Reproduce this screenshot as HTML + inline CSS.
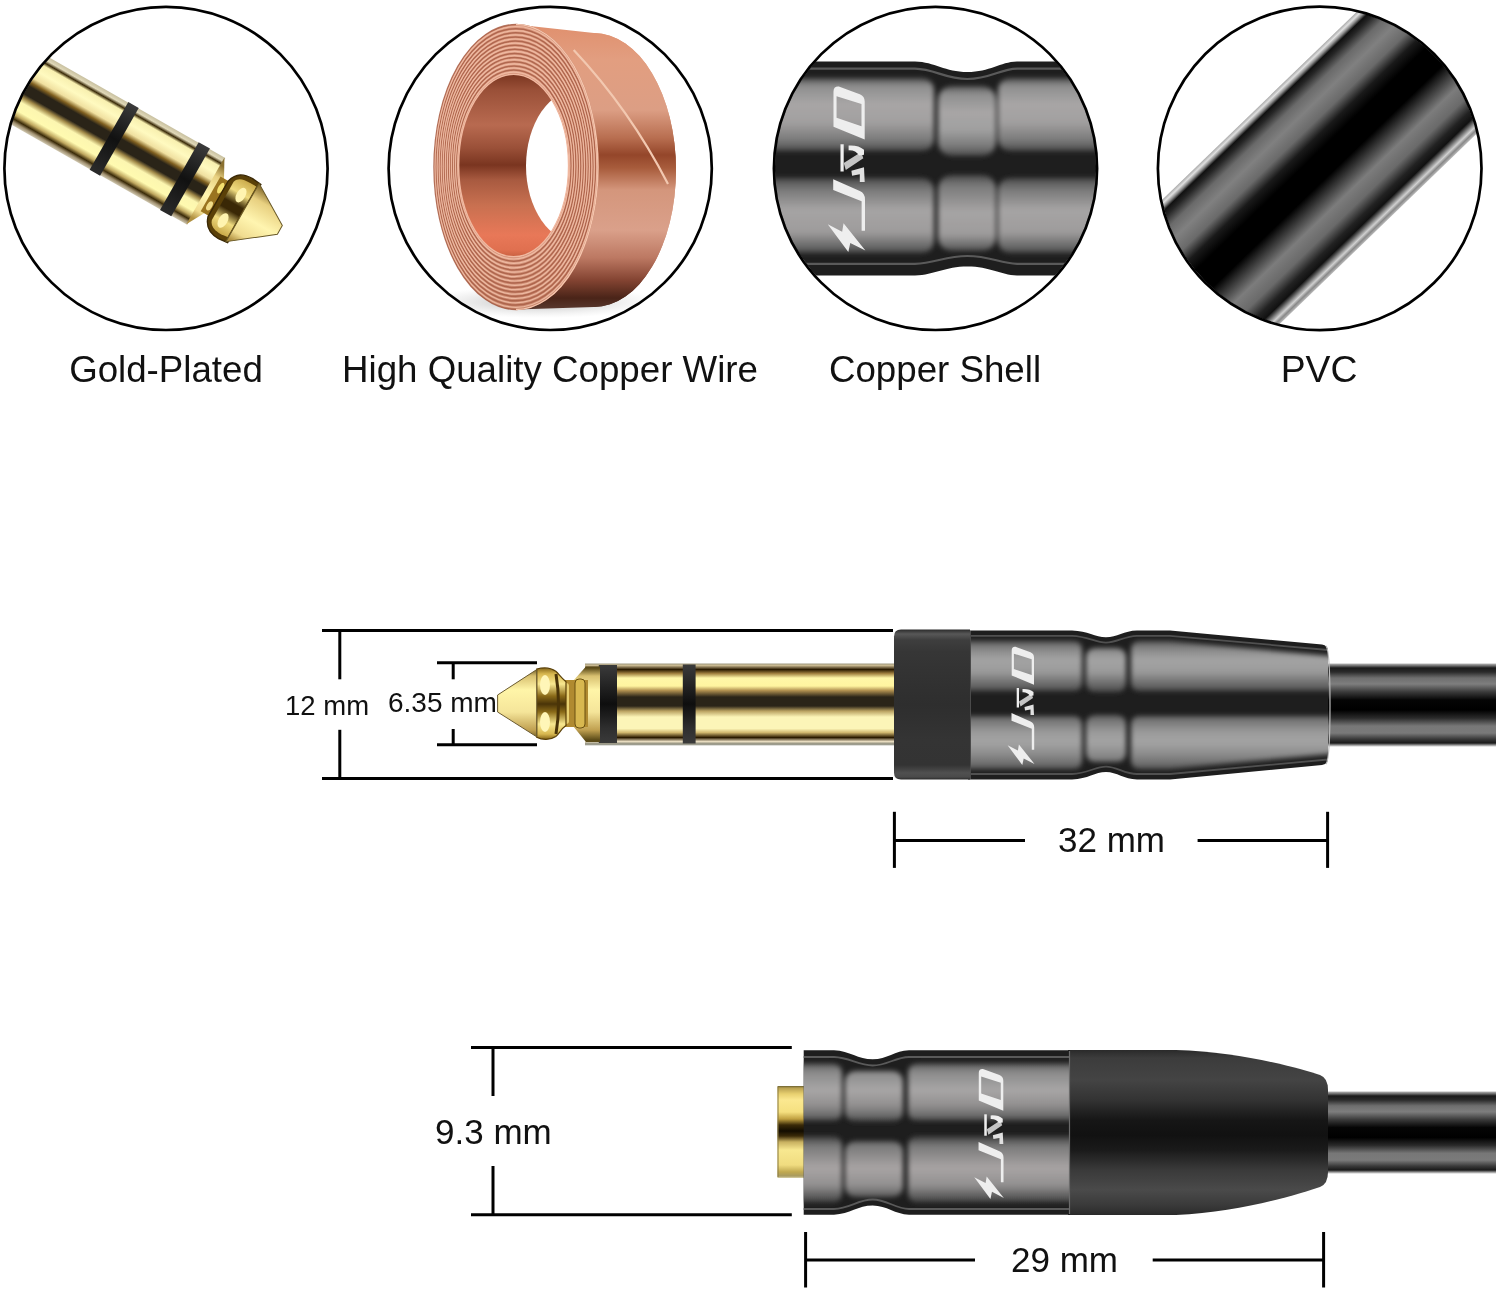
<!DOCTYPE html>
<html><head><meta charset="utf-8">
<style>
html,body{margin:0;padding:0;background:#fff;width:1496px;height:1291px;overflow:hidden}
svg{display:block;will-change:transform}
text{font-family:"Liberation Sans",sans-serif;fill:#111}
</style></head>
<body>
<svg width="1496" height="1291" viewBox="0 0 1496 1291">
<defs>
<clipPath id="c1"><circle cx="166" cy="168.4" r="160.6"/></clipPath>
<clipPath id="c2"><circle cx="550.2" cy="168.4" r="160.6"/></clipPath>
<clipPath id="c3"><circle cx="935.5" cy="168.4" r="160.6"/></clipPath>
<clipPath id="c4"><circle cx="1319.7" cy="168.4" r="160.8"/></clipPath>
<filter id="blur2" x="-20%" y="-20%" width="140%" height="140%"><feGaussianBlur stdDeviation="2"/></filter>
<filter id="blur4" x="-50%" y="-50%" width="200%" height="200%"><feGaussianBlur stdDeviation="4"/></filter>
<filter id="blur6" x="-50%" y="-50%" width="200%" height="200%"><feGaussianBlur stdDeviation="6"/></filter>
<filter id="blur1" x="-20%" y="-20%" width="140%" height="140%"><feGaussianBlur stdDeviation="1"/></filter>
<linearGradient id="gGoldSleeve" gradientUnits="userSpaceOnUse" x1="0" y1="663.5" x2="0" y2="745.5"><stop offset="0.0000" stop-color="#a09a80"/><stop offset="0.0244" stop-color="#c8b890"/><stop offset="0.0732" stop-color="#2a1a00"/><stop offset="0.1220" stop-color="#a08040"/><stop offset="0.1768" stop-color="#fff7a8"/><stop offset="0.2744" stop-color="#fff5a0"/><stop offset="0.3293" stop-color="#b09050"/><stop offset="0.4085" stop-color="#2a2418"/><stop offset="0.5183" stop-color="#2a2418"/><stop offset="0.5793" stop-color="#b8a060"/><stop offset="0.6524" stop-color="#fcf5b8"/><stop offset="0.7927" stop-color="#fcf5b8"/><stop offset="0.8415" stop-color="#d0b870"/><stop offset="0.9024" stop-color="#2a1a00"/><stop offset="0.9512" stop-color="#e8dcc0"/><stop offset="0.9817" stop-color="#8a8a7a"/><stop offset="1.0000" stop-color="#c0c0b8"/></linearGradient>
<linearGradient id="gRing" gradientUnits="userSpaceOnUse" x1="0" y1="665" x2="0" y2="743"><stop offset="0.0000" stop-color="#3a3a3a"/><stop offset="0.1923" stop-color="#2a2a2a"/><stop offset="0.5000" stop-color="#0e0e0e"/><stop offset="0.8077" stop-color="#2e2e2e"/><stop offset="1.0000" stop-color="#3a3a3a"/></linearGradient>
<linearGradient id="gTip" gradientUnits="userSpaceOnUse" x1="0" y1="668" x2="0" y2="740"><stop offset="0.0000" stop-color="#5a4a18"/><stop offset="0.1111" stop-color="#d8c070"/><stop offset="0.3056" stop-color="#fff5a8"/><stop offset="0.6111" stop-color="#f5e59a"/><stop offset="0.8611" stop-color="#c0a050"/><stop offset="1.0000" stop-color="#5a4a18"/></linearGradient>
<linearGradient id="gCap" gradientUnits="userSpaceOnUse" x1="0" y1="629.5" x2="0" y2="779.5"><stop offset="0.0000" stop-color="#2a2a2a"/><stop offset="0.0100" stop-color="#3a3a3a"/><stop offset="0.0300" stop-color="#585858"/><stop offset="0.0700" stop-color="#3e3e3e"/><stop offset="0.1500" stop-color="#363636"/><stop offset="0.4033" stop-color="#303030"/><stop offset="0.5033" stop-color="#2e2e2e"/><stop offset="0.7367" stop-color="#343434"/><stop offset="0.9033" stop-color="#333"/><stop offset="0.9567" stop-color="#505050"/><stop offset="0.9833" stop-color="#4a4a4a"/><stop offset="1.0000" stop-color="#2a2a2a"/></linearGradient>
<linearGradient id="gCableTop" gradientUnits="userSpaceOnUse" x1="0" y1="663" x2="0" y2="747"><stop offset="0.0000" stop-color="#c8c8c8"/><stop offset="0.0238" stop-color="#888"/><stop offset="0.0595" stop-color="#1a1a1a"/><stop offset="0.1071" stop-color="#2a2a2a"/><stop offset="0.1786" stop-color="#6e6e6e"/><stop offset="0.2500" stop-color="#7e7e7e"/><stop offset="0.3452" stop-color="#3a3a3a"/><stop offset="0.4405" stop-color="#050505"/><stop offset="0.5595" stop-color="#000"/><stop offset="0.6548" stop-color="#2a2a2a"/><stop offset="0.7500" stop-color="#777"/><stop offset="0.8333" stop-color="#7a7a7a"/><stop offset="0.9048" stop-color="#3a3a3a"/><stop offset="0.9524" stop-color="#1a1a1a"/><stop offset="0.9821" stop-color="#aaa"/><stop offset="1.0000" stop-color="#ddd"/></linearGradient>
<linearGradient id="gPillowM" gradientUnits="userSpaceOnUse" x1="0" y1="641" x2="0" y2="769"><stop offset="0.0000" stop-color="#5a5a5a"/><stop offset="0.0703" stop-color="#8a8a8a"/><stop offset="0.1484" stop-color="#a4a4a4"/><stop offset="0.2422" stop-color="#9a9a9a"/><stop offset="0.3359" stop-color="#6a6a6a"/><stop offset="0.3984" stop-color="#4a4a4a"/><stop offset="0.4609" stop-color="#1a1a1a"/><stop offset="0.5703" stop-color="#5a5a5a"/><stop offset="0.6328" stop-color="#7a7a7a"/><stop offset="0.7109" stop-color="#9a9a9a"/><stop offset="0.7891" stop-color="#a4a4a4"/><stop offset="0.8906" stop-color="#8a8a8a"/><stop offset="1.0000" stop-color="#5a5a5a"/></linearGradient>
<linearGradient id="gBulb" gradientUnits="userSpaceOnUse" x1="0" y1="667" x2="0" y2="740"><stop offset="0.0000" stop-color="#7a5a10"/><stop offset="0.0959" stop-color="#d8b850"/><stop offset="0.2329" stop-color="#f8e890"/><stop offset="0.3973" stop-color="#8a6a18"/><stop offset="0.5068" stop-color="#4a3408"/><stop offset="0.6164" stop-color="#8a6a18"/><stop offset="0.7808" stop-color="#f8e890"/><stop offset="0.9178" stop-color="#d8b850"/><stop offset="1.0000" stop-color="#7a5a10"/></linearGradient>
<clipPath id="bodyM"><path d="M968,630.5 L1072,630.5 C1088,631 1095,637.2 1106,637.2 C1117,637.2 1124,630.8 1137,630.5 L1170,630.5 L1322,644.5 Q1328,645.5 1328,651 L1328,758.5 Q1328,764 1322,765 L1170,779.5 L1137,779.5 C1124,779.2 1117,772 1106,772 C1095,772 1088,779 1072,779.5 L968,779.5 Z"/></clipPath>
<filter id="pblur" filterUnits="userSpaceOnUse" x="0" y="0" width="1496" height="1291"><feGaussianBlur stdDeviation="2.4"/></filter>
<linearGradient id="gGoldJack" gradientUnits="userSpaceOnUse" x1="0" y1="1086" x2="0" y2="1178"><stop offset="0.0000" stop-color="#6a6030"/><stop offset="0.0217" stop-color="#b8a050"/><stop offset="0.0870" stop-color="#e8d070"/><stop offset="0.1522" stop-color="#fbe890"/><stop offset="0.2826" stop-color="#f5e080"/><stop offset="0.3587" stop-color="#c0a040"/><stop offset="0.4239" stop-color="#3a2a08"/><stop offset="0.4891" stop-color="#120c00"/><stop offset="0.5435" stop-color="#3a2a08"/><stop offset="0.6087" stop-color="#c8b060"/><stop offset="0.6957" stop-color="#f8e890"/><stop offset="0.8587" stop-color="#f0dc80"/><stop offset="0.9348" stop-color="#c0a850"/><stop offset="0.9783" stop-color="#a89a60"/><stop offset="1.0000" stop-color="#d8d0a8"/></linearGradient>
<linearGradient id="gPillowF" gradientUnits="userSpaceOnUse" x1="0" y1="1063" x2="0" y2="1203"><stop offset="0.0000" stop-color="#555"/><stop offset="0.0643" stop-color="#8a8a8a"/><stop offset="0.1929" stop-color="#a8a6a6"/><stop offset="0.3000" stop-color="#929090"/><stop offset="0.3786" stop-color="#6a6a6a"/><stop offset="0.4143" stop-color="#3a3a3a"/><stop offset="0.4643" stop-color="#1c1c1c"/><stop offset="0.5214" stop-color="#3a3a3a"/><stop offset="0.5929" stop-color="#7a7a7a"/><stop offset="0.7500" stop-color="#a8a4a4"/><stop offset="0.8714" stop-color="#929090"/><stop offset="0.9571" stop-color="#5a5a5a"/><stop offset="1.0000" stop-color="#3a3a3a"/></linearGradient>
<linearGradient id="gBoot" gradientUnits="userSpaceOnUse" x1="0" y1="1050" x2="0" y2="1215"><stop offset="0.0000" stop-color="#2a2a2a"/><stop offset="0.0485" stop-color="#3c3c3c"/><stop offset="0.1818" stop-color="#444"/><stop offset="0.3030" stop-color="#333"/><stop offset="0.4242" stop-color="#161616"/><stop offset="0.5152" stop-color="#111"/><stop offset="0.6061" stop-color="#1a1a1a"/><stop offset="0.7273" stop-color="#3a3a3a"/><stop offset="0.8485" stop-color="#4a4a4a"/><stop offset="0.9394" stop-color="#3a3a3a"/><stop offset="1.0000" stop-color="#2a2a2a"/></linearGradient>
<linearGradient id="gCableBot" gradientUnits="userSpaceOnUse" x1="0" y1="1091" x2="0" y2="1174"><stop offset="0.0000" stop-color="#c8c8c8"/><stop offset="0.0238" stop-color="#888"/><stop offset="0.0595" stop-color="#1a1a1a"/><stop offset="0.1071" stop-color="#2a2a2a"/><stop offset="0.1786" stop-color="#6e6e6e"/><stop offset="0.2500" stop-color="#7e7e7e"/><stop offset="0.3452" stop-color="#3a3a3a"/><stop offset="0.4405" stop-color="#050505"/><stop offset="0.5595" stop-color="#000"/><stop offset="0.6548" stop-color="#2a2a2a"/><stop offset="0.7500" stop-color="#777"/><stop offset="0.8333" stop-color="#7a7a7a"/><stop offset="0.9048" stop-color="#3a3a3a"/><stop offset="0.9524" stop-color="#1a1a1a"/><stop offset="0.9821" stop-color="#aaa"/><stop offset="1.0000" stop-color="#ddd"/></linearGradient>
<clipPath id="bodyF"><path d="M803.7,1050.2 L834,1050.2 C850,1051 858,1059.3 872.7,1059.3 C887,1059.3 895,1050.5 909,1050.2 L1070,1050.2 L1070,1214.7 L909,1214.7 C895,1214.5 887,1205.6 872.7,1205.6 C858,1205.6 850,1214 834,1214.7 L803.7,1214.7 Z"/></clipPath>
<linearGradient id="gPlug" gradientUnits="userSpaceOnUse" x1="0" y1="-38.5" x2="0" y2="38.5"><stop offset="0.0000" stop-color="#c8c0a0"/><stop offset="0.0519" stop-color="#e0d8b8"/><stop offset="0.0909" stop-color="#3a2a08"/><stop offset="0.1299" stop-color="#f8f0b0"/><stop offset="0.2338" stop-color="#fffac0"/><stop offset="0.3377" stop-color="#f0e0a0"/><stop offset="0.4026" stop-color="#806020"/><stop offset="0.4545" stop-color="#2a2418"/><stop offset="0.5714" stop-color="#2a2418"/><stop offset="0.6234" stop-color="#a08848"/><stop offset="0.6883" stop-color="#fcf6b0"/><stop offset="0.8052" stop-color="#fffab0"/><stop offset="0.8701" stop-color="#c0a860"/><stop offset="0.9221" stop-color="#3a2a08"/><stop offset="0.9610" stop-color="#a09070"/><stop offset="1.0000" stop-color="#d0c8b0"/></linearGradient>
<linearGradient id="gPlugTip" gradientUnits="userSpaceOnUse" x1="0" y1="-30" x2="0" y2="30"><stop offset="0" stop-color="#8a7030"/><stop offset="0.2" stop-color="#e8d080"/><stop offset="0.55" stop-color="#fff5b0"/><stop offset="0.85" stop-color="#f0dc90"/><stop offset="1" stop-color="#b09040"/></linearGradient>
<linearGradient id="gBulbL" gradientUnits="userSpaceOnUse" x1="0" y1="-30" x2="0" y2="30"><stop offset="0" stop-color="#c8a848"/><stop offset="0.25" stop-color="#f0dc80"/><stop offset="0.45" stop-color="#3a2806"/><stop offset="0.58" stop-color="#3a2806"/><stop offset="0.78" stop-color="#f0dc80"/><stop offset="1" stop-color="#c8a848"/></linearGradient>
<linearGradient id="gRing1" gradientUnits="userSpaceOnUse" x1="0" y1="-38.5" x2="0" y2="38.5"><stop offset="0" stop-color="#3a3a3a"/><stop offset="0.5" stop-color="#111"/><stop offset="1" stop-color="#2a2a2a"/></linearGradient>
<linearGradient id="gCoilOuter" gradientUnits="userSpaceOnUse" x1="0" y1="25" x2="0" y2="310"><stop offset="0.0000" stop-color="#e0906e"/><stop offset="0.1228" stop-color="#e29e80"/><stop offset="0.2982" stop-color="#dc9e84"/><stop offset="0.3965" stop-color="#b86e50"/><stop offset="0.4561" stop-color="#94462a"/><stop offset="0.5018" stop-color="#a85c3c"/><stop offset="0.5789" stop-color="#d4967c"/><stop offset="0.7193" stop-color="#daa08a"/><stop offset="0.8175" stop-color="#bc7862"/><stop offset="0.8947" stop-color="#844432"/><stop offset="0.9579" stop-color="#4a2418"/><stop offset="1.0000" stop-color="#5a3a30"/></linearGradient>
<linearGradient id="gCoilFace" gradientUnits="userSpaceOnUse" x1="0" y1="25" x2="0" y2="310"><stop offset="0.0000" stop-color="#dc9a80"/><stop offset="0.1930" stop-color="#e0a088"/><stop offset="0.4982" stop-color="#d8967c"/><stop offset="0.7895" stop-color="#dc9c84"/><stop offset="1.0000" stop-color="#c8866c"/></linearGradient>
<linearGradient id="gCoilInner" gradientUnits="userSpaceOnUse" x1="0" y1="74" x2="0" y2="257"><stop offset="0.0000" stop-color="#7a3520"/><stop offset="0.0874" stop-color="#9a5038"/><stop offset="0.2787" stop-color="#b86a50"/><stop offset="0.4044" stop-color="#9a5038"/><stop offset="0.4973" stop-color="#7a3520"/><stop offset="0.5792" stop-color="#a85a40"/><stop offset="0.7158" stop-color="#c87050"/><stop offset="0.8798" stop-color="#e87858"/><stop offset="0.9617" stop-color="#e07050"/><stop offset="1.0000" stop-color="#c86040"/></linearGradient>
<radialGradient id="gShadow" cx="0.5" cy="0.5" r="0.5"><stop offset="0" stop-color="#999" stop-opacity="0.7"/><stop offset="1" stop-color="#ccc" stop-opacity="0"/></radialGradient>
<clipPath id="hole"><ellipse cx="513.6" cy="165.5" rx="55" ry="91.3"/></clipPath>
<linearGradient id="gPillowC3" gradientUnits="userSpaceOnUse" x1="0" y1="79" x2="0" y2="253"><stop offset="-0.0057" stop-color="#555"/><stop offset="0.0402" stop-color="#8e8e8e"/><stop offset="0.1437" stop-color="#a8a6a6"/><stop offset="0.2471" stop-color="#a2a0a0"/><stop offset="0.3506" stop-color="#7a7a7a"/><stop offset="0.4138" stop-color="#4a4a4a"/><stop offset="0.4943" stop-color="#1c1c1c"/><stop offset="0.5690" stop-color="#4a4a4a"/><stop offset="0.6379" stop-color="#7a7a7a"/><stop offset="0.7529" stop-color="#a6a4a4"/><stop offset="0.8793" stop-color="#9e9c9c"/><stop offset="0.9598" stop-color="#6a6a6a"/><stop offset="1.0000" stop-color="#4a4a4a"/></linearGradient>
<linearGradient id="gPillowC3w" gradientUnits="userSpaceOnUse" x1="0" y1="86" x2="0" y2="251"><stop offset="0.0000" stop-color="#555"/><stop offset="0.0485" stop-color="#8e8e8e"/><stop offset="0.1576" stop-color="#a8a6a6"/><stop offset="0.2667" stop-color="#a0a0a0"/><stop offset="0.3636" stop-color="#7a7a7a"/><stop offset="0.4242" stop-color="#4a4a4a"/><stop offset="0.4788" stop-color="#1c1c1c"/><stop offset="0.5394" stop-color="#4a4a4a"/><stop offset="0.6061" stop-color="#7a7a7a"/><stop offset="0.7636" stop-color="#a6a4a4"/><stop offset="0.8970" stop-color="#9e9c9c"/><stop offset="0.9697" stop-color="#6a6a6a"/><stop offset="1.0000" stop-color="#4a4a4a"/></linearGradient>
<filter id="pblur3" filterUnits="userSpaceOnUse" x="0" y="0" width="1496" height="400"><feGaussianBlur stdDeviation="2.6"/></filter>
<linearGradient id="gPVC" gradientUnits="userSpaceOnUse" x1="0" y1="-85.5" x2="0" y2="85.5"><stop offset="0.0000" stop-color="#aaa"/><stop offset="0.0175" stop-color="#e0e0e0"/><stop offset="0.0351" stop-color="#888"/><stop offset="0.0526" stop-color="#111"/><stop offset="0.0819" stop-color="#262626"/><stop offset="0.1404" stop-color="#6a6a6a"/><stop offset="0.2105" stop-color="#808080"/><stop offset="0.2924" stop-color="#6a6a6a"/><stop offset="0.3626" stop-color="#1a1a1a"/><stop offset="0.4327" stop-color="#000"/><stop offset="0.5731" stop-color="#000"/><stop offset="0.6433" stop-color="#3a3a3a"/><stop offset="0.7251" stop-color="#7c7c7c"/><stop offset="0.8070" stop-color="#6a6a6a"/><stop offset="0.8772" stop-color="#222"/><stop offset="0.9181" stop-color="#111"/><stop offset="0.9474" stop-color="#888"/><stop offset="0.9649" stop-color="#d0d0d0"/><stop offset="0.9825" stop-color="#888"/><stop offset="1.0000" stop-color="#bbb"/></linearGradient>

</defs>
<rect width="1496" height="1291" fill="#fff"/>
<g clip-path="url(#c1)"><g transform="translate(30.8,91.3) rotate(29.7)"><rect x="-80" y="-38.5" width="282" height="77" fill="url(#gPlug)"/><rect x="90" y="-39" width="12" height="78" fill="url(#gRing1)"/><rect x="171" y="-39" width="13" height="78" fill="url(#gRing1)"/><path d="M201,-38.5 L211,-20 L211,20 L201,38.5 Z" fill="url(#gPlugTip)"/><rect x="207" y="-20" width="12" height="40" fill="#9a7420"/><ellipse cx="213" cy="-10" rx="2.6" ry="6" fill="#f4e070"/><ellipse cx="212" cy="11" rx="2.6" ry="5" fill="#f0dc88"/><path d="M216,-20 C219,-31 226,-34 236,-34 L246,-33 L246,34 L236,35 C226,35 219,31 216,21 Z" fill="#5a4008" stroke="#3a2806" stroke-width="1.4"/><path d="M221,-22 C223,-28 228,-29 236,-29 L243,-29 L243,29 L236,30 C228,30 223,28 221,22 Z" fill="url(#gBulbL)"/><ellipse cx="234" cy="-14" rx="4.5" ry="8" fill="#fff4b0"/><ellipse cx="231" cy="17" rx="4.5" ry="8" fill="#fff4b0"/><path d="M244,-33 L285,-8 L285,2 L244,34 Z" fill="url(#gPlugTip)" stroke="#6a5a28" stroke-width="1"/></g></g>
<g clip-path="url(#c2)"><ellipse cx="540" cy="302" rx="120" ry="16" fill="url(#gShadow)"/><path d="M516,24.5 L594,33 A82,137 0 0 1 594,307 L516,309.5 A82,142.5 0 0 1 516,24.5 Z" fill="url(#gCoilOuter)"/><ellipse cx="594" cy="170" rx="82" ry="137" fill="url(#gCoilOuter)"/><path fill-rule="evenodd" d="M516,24.5 A82,142.5 0 1 0 516,309.5 A82,142.5 0 1 0 516,24.5 Z M513.6,74.2 A55,91.3 0 1 1 513.6,256.8 A55,91.3 0 1 1 513.6,74.2 Z" fill="url(#gCoilFace)"/><g fill="none" stroke="#a85e46" stroke-width="1.5" opacity="0.85"><ellipse cx="516.0" cy="167.0" rx="82.0" ry="142.5"/><ellipse cx="515.8" cy="166.9" rx="79.8" ry="138.2"/><ellipse cx="515.6" cy="166.8" rx="77.5" ry="134.0"/><ellipse cx="515.4" cy="166.6" rx="75.2" ry="129.7"/><ellipse cx="515.2" cy="166.5" rx="73.0" ry="125.4"/><ellipse cx="515.0" cy="166.4" rx="70.8" ry="121.2"/><ellipse cx="514.8" cy="166.2" rx="68.5" ry="116.9"/><ellipse cx="514.6" cy="166.1" rx="66.2" ry="112.6"/><ellipse cx="514.4" cy="166.0" rx="64.0" ry="108.4"/><ellipse cx="514.2" cy="165.9" rx="61.8" ry="104.1"/><ellipse cx="514.0" cy="165.8" rx="59.5" ry="99.8"/><ellipse cx="513.8" cy="165.6" rx="57.2" ry="95.6"/><ellipse cx="513.6" cy="165.5" rx="55.0" ry="91.3"/></g><g fill="none" stroke="#f2c0a8" stroke-width="1.2" opacity="0.85"><ellipse cx="515.9" cy="166.9" rx="80.9" ry="140.4"/><ellipse cx="515.7" cy="166.8" rx="78.6" ry="136.1"/><ellipse cx="515.5" cy="166.7" rx="76.4" ry="131.8"/><ellipse cx="515.3" cy="166.6" rx="74.1" ry="127.6"/><ellipse cx="515.1" cy="166.4" rx="71.9" ry="123.3"/><ellipse cx="514.9" cy="166.3" rx="69.6" ry="119.0"/><ellipse cx="514.7" cy="166.2" rx="67.4" ry="114.8"/><ellipse cx="514.5" cy="166.1" rx="65.1" ry="110.5"/><ellipse cx="514.3" cy="165.9" rx="62.9" ry="106.2"/><ellipse cx="514.1" cy="165.8" rx="60.6" ry="102.0"/><ellipse cx="513.9" cy="165.7" rx="58.4" ry="97.7"/><ellipse cx="513.7" cy="165.6" rx="56.1" ry="93.4"/></g><ellipse cx="513.6" cy="165.5" rx="55" ry="91.3" fill="url(#gCoilInner)"/><g clip-path="url(#hole)"><ellipse cx="579" cy="166" rx="53" ry="77" fill="#fff"/></g><ellipse cx="513.6" cy="165.5" rx="55" ry="91.3" fill="none" stroke="#f0b8a0" stroke-width="1.5"/><path d="M516,24.5 A82,142.5 0 0 1 516,309.5" fill="none" stroke="#f4c4ac" stroke-width="1.5"/><path d="M573.7,50 Q630,110 668,184" fill="none" stroke="#f2c8b0" stroke-width="2.2"/></g>
<g clip-path="url(#c3)"><path d="M760,61.5 L915,61.5 C935,62 945,72 967.4,72 C990,72 1000,62 1017,61.5 L1110,61.5 L1110,275.5 L1017,275.5 C1000,275 990,266.6 967.4,266.6 C945,266.6 935,275 915,275.5 L760,275.5 Z" fill="#1e1e1e"/><g filter="url(#pblur3)"><path d="M750,78 L920,78 Q934,78 934,92 L934,137 Q934,151 920,151 L750,151 Z" fill="url(#gPillowC3)"/><path d="M750,178 L920,178 Q934,178 934,192 L934,239 Q934,253 920,253 L750,253 Z" fill="url(#gPillowC3)"/><path d="M998,92 Q998,78 1012,78 L1120,78 L1120,151 L1012,151 Q998,151 998,137 Z" fill="url(#gPillowC3)"/><path d="M998,192 Q998,178 1012,178 L1120,178 L1120,253 L1012,253 Q998,253 998,239 Z" fill="url(#gPillowC3)"/><path d="M938,102 Q938,86 954,86 L980,86 Q996,86 996,102 L996,140 Q996,156 980,156 L954,156 Q938,156 938,140 Z" fill="url(#gPillowC3w)"/><path d="M938,191 Q938,175 954,175 L980,175 Q996,175 996,191 L996,235 Q996,251 980,251 L954,251 Q938,251 938,235 Z" fill="url(#gPillowC3w)"/></g><path d="M760,68.6 L915,68.6 C935,69 945,79 967.4,79 C990,79 1000,69 1017,68.6 L1110,68.6" stroke="#5a5a5a" stroke-width="2.2" fill="none"/><path d="M760,263.8 L915,263.8 C935,263.4 945,256 967.4,256 C990,256 1000,263.4 1017,263.8 L1110,263.8" stroke="#5a5a5a" stroke-width="2.2" fill="none"/><g transform="translate(846.5,168) scale(1.4) translate(-1021.5,-704.5)" fill="#eeeeee"><path fill-rule="evenodd" d="M1012.2,650 Q1012.2,646 1016,646.3 L1031,651.8 Q1034.5,653.3 1034.5,657 L1034.5,684.2 L1012.2,675 Z M1014.4,653.2 L1032.2,658.8 L1032.2,674.6 L1014.4,668.6 Z"/><path d="M1017.2,687.5 L1019.5,687.5 L1019.5,707 L1017.2,707 Z"/><path d="M1019.5,701 L1032,693 L1033.5,697.5 L1021,706 Z" fill="#c4c4c4"/><path d="M1023,688.5 Q1030,688 1034,691.5 L1034,695 L1030.5,695.5 Q1028,691.5 1023,691.8 Z"/><path d="M1025,706.5 L1034,704 L1034.5,714.5 L1031,714.5 L1031,709 L1025.5,710 Z" fill="#e0e0e0"/><path d="M1012,712.6 L1031,721 Q1034.7,722.5 1034.7,727 L1034.7,749.3 L1032.3,749.3 L1032.3,728.3 L1012,720.2 Z"/><path d="M1008.1,744.7 L1018.4,750 L1019.4,744 L1035,763.5 L1024.2,758 L1022.8,764.5 Z"/></g></g>
<g clip-path="url(#c4)"><g transform="translate(1223.9,259) rotate(-44)"><rect x="-400" y="-85.5" width="800" height="171" fill="url(#gPVC)"/></g></g>
<rect x="1320" y="663.5" width="176" height="83" fill="url(#gCableTop)"/>
<rect x="585" y="663.5" width="312" height="82" fill="url(#gGoldSleeve)"/>
<rect x="598.8" y="665" width="18.2" height="78" fill="url(#gRing)"/>
<rect x="682.8" y="664.5" width="12.8" height="79" fill="url(#gRing)"/>
<path d="M573,681 L586,666.5 L600,666.5 L600,742 L586,742 L573,726 Z" fill="url(#gTip)"/>
<rect x="560" y="680" width="28" height="47" fill="#b08a30"/>
<rect x="563" y="683" width="6" height="41" rx="3" fill="#e8d070"/>
<rect x="575" y="679" width="10" height="49" rx="4" fill="#d8b850" stroke="#6a5010" stroke-width="1"/>
<path d="M536.7,669 C542,667.5 550,667 555.8,671.3 C559,674 561,678 566,681.7 L566,725.6 C561,729 559,734 555.8,736.5 C550,740.5 542,740 536.7,737.3 Z" fill="url(#gBulb)" stroke="#5a4008" stroke-width="1.2"/>
<path d="M556,674 Q561,704 556,734" stroke="#4a3408" stroke-width="3" fill="none"/>
<ellipse cx="545" cy="685" rx="5" ry="10" fill="#fff6b8"/>
<ellipse cx="545" cy="722" rx="5" ry="10" fill="#fff6b8"/>
<path d="M497.6,695 L536.7,669.6 L536.7,736.8 L497.6,712 Z" fill="url(#gTip)" stroke="#6a5a30" stroke-width="1"/>
<path d="M968,630.5 L1072,630.5 C1088,631 1095,637.2 1106,637.2 C1117,637.2 1124,630.8 1137,630.5 L1170,630.5 L1322,644.5 Q1328,645.5 1328,651 L1328,758.5 Q1328,764 1322,765 L1170,779.5 L1137,779.5 C1124,779.2 1117,772 1106,772 C1095,772 1088,779 1072,779.5 L968,779.5 Z" fill="#1e1e1e"/>
<g clip-path="url(#bodyM)">
<g filter="url(#pblur)"><path d="M955,641 L1073,641 Q1082,641 1082,650 L1082,682 Q1082,691 1073,691 L955,691 L955,641 Z" fill="url(#gPillowM)"/><path d="M955,716 L1073,716 Q1082,716 1082,725 L1082,760 Q1082,769 1073,769 L955,769 L955,716 Z" fill="url(#gPillowM)"/><path d="M1096,648 L1116,648 Q1126,648 1126,658 L1126,682 Q1126,692 1116,692 L1096,692 Q1086,692 1086,682 L1086,658 Q1086,648 1096,648 Z" fill="url(#gPillowM)"/><path d="M1096,715 L1116,715 Q1126,715 1126,725 L1126,752 Q1126,762 1116,762 L1096,762 Q1086,762 1086,752 L1086,725 Q1086,715 1096,715 Z" fill="url(#gPillowM)"/><path d="M1140,641 L1170,641 L1340,657 L1340,691 L1140,691 Q1131,691 1131,682 L1131,650 Q1131,641 1140,641 Z" fill="url(#gPillowM)"/><path d="M1140,716 L1340,716 L1340,753 L1170,769 L1140,769 Q1131,769 1131,760 L1131,725 Q1131,716 1140,716 Z" fill="url(#gPillowM)"/></g>
<path d="M968,635.8 L1072,635.8 C1088,636.3 1095,642.6 1106,642.6 C1117,642.6 1124,636.1 1137,635.8 L1170,635.8 L1328,650" stroke="#505050" stroke-width="1.8" fill="none"/>
<path d="M968,774 L1072,774 C1088,773.5 1095,766.6 1106,766.6 C1117,766.6 1124,773.7 1137,774 L1170,774 L1328,759.5" stroke="#505050" stroke-width="1.8" fill="none"/>
</g>
<path d="M1326,646 Q1330,650 1330,705 Q1330,760 1326,764" stroke="#bbb" stroke-width="1.2" fill="none"/>
<path d="M901,629.5 L970,629.5 L970,779.5 L901,779.5 Q894,779.5 894,772.5 L894,636.5 Q894,629.5 901,629.5 Z" fill="url(#gCap)"/>
<line x1="970.5" y1="631" x2="970.5" y2="779" stroke="#4a4a4a" stroke-width="1"/>
<g transform="translate(1021,705) scale(1.0) translate(-1021.5,-704.5)" fill="#eeeeee"><path fill-rule="evenodd" d="M1012.2,650 Q1012.2,646 1016,646.3 L1031,651.8 Q1034.5,653.3 1034.5,657 L1034.5,684.2 L1012.2,675 Z M1014.4,653.2 L1032.2,658.8 L1032.2,674.6 L1014.4,668.6 Z"/><path d="M1017.2,687.5 L1019.5,687.5 L1019.5,707 L1017.2,707 Z"/><path d="M1019.5,701 L1032,693 L1033.5,697.5 L1021,706 Z" fill="#c4c4c4"/><path d="M1023,688.5 Q1030,688 1034,691.5 L1034,695 L1030.5,695.5 Q1028,691.5 1023,691.8 Z"/><path d="M1025,706.5 L1034,704 L1034.5,714.5 L1031,714.5 L1031,709 L1025.5,710 Z" fill="#e0e0e0"/><path d="M1012,712.6 L1031,721 Q1034.7,722.5 1034.7,727 L1034.7,749.3 L1032.3,749.3 L1032.3,728.3 L1012,720.2 Z"/><path d="M1008.1,744.7 L1018.4,750 L1019.4,744 L1035,763.5 L1024.2,758 L1022.8,764.5 Z"/></g><g stroke="#000" stroke-width="3" fill="none">
<line x1="322" y1="630.6" x2="893" y2="630.6"/>
<line x1="322" y1="778.6" x2="893" y2="778.6"/>
<line x1="339.8" y1="630.6" x2="339.8" y2="679.3"/>
<line x1="339.8" y1="729.8" x2="339.8" y2="778.6"/>
<line x1="437" y1="662.7" x2="537" y2="662.7"/>
<line x1="437" y1="744.7" x2="537" y2="744.7"/>
<line x1="453.2" y1="662.7" x2="453.2" y2="679.3"/>
<line x1="453.2" y1="729" x2="453.2" y2="744.7"/>
<line x1="894.4" y1="811.8" x2="894.4" y2="867.9"/>
<line x1="1327.6" y1="811.8" x2="1327.6" y2="867.9"/>
<line x1="894.4" y1="840.4" x2="1025" y2="840.4"/>
<line x1="1197.6" y1="840.4" x2="1327.6" y2="840.4"/>
<line x1="471" y1="1047.4" x2="791.8" y2="1047.4"/>
<line x1="471" y1="1214.7" x2="791.8" y2="1214.7"/>
<line x1="493" y1="1047.4" x2="493" y2="1096"/>
<line x1="493" y1="1166" x2="493" y2="1214.7"/>
<line x1="805.6" y1="1232" x2="805.6" y2="1287.5"/>
<line x1="1323.6" y1="1232" x2="1323.6" y2="1287.5"/>
<line x1="805.6" y1="1260.1" x2="975" y2="1260.1"/>
<line x1="1152.7" y1="1260.1" x2="1323.6" y2="1260.1"/>
</g>
<g>
<text x="285" y="714.6" font-size="27.5">12 mm</text>
<text x="388" y="711.6" font-size="28">6.35 mm</text>
<text x="1058" y="852.4" font-size="35">32 mm</text>
<text x="435" y="1143.6" font-size="35">9.3 mm</text>
<text x="1011" y="1272.4" font-size="35">29 mm</text>
</g>
<g font-size="36.7" text-anchor="middle">
<text x="166" y="381.5">Gold-Plated</text>
<text x="550" y="381.5">High Quality Copper Wire</text>
<text x="935" y="381.5">Copper Shell</text>
<text x="1319" y="381.5" font-size="37.3">PVC</text>
</g>
<g fill="none" stroke="#000" stroke-width="2.7"><circle cx="166" cy="168.4" r="161.6"/><circle cx="550.2" cy="168.4" r="161.6"/><circle cx="935.5" cy="168.4" r="161.6"/><circle cx="1319.7" cy="168.4" r="161.8"/></g>
<rect x="1320" y="1091.5" width="176" height="82" fill="url(#gCableBot)"/>
<path d="M1068,1050 L1176,1050 C1240,1052 1300,1068 1320,1075 Q1328,1078 1328,1090 L1328,1172 Q1328,1184 1320,1187 C1300,1194 1240,1212 1176,1215 L1068,1215 Z" fill="url(#gBoot)"/>
<rect x="777.5" y="1086" width="27" height="92" fill="url(#gGoldJack)"/>
<line x1="778" y1="1087" x2="778" y2="1177" stroke="#8a7a40" stroke-width="1"/>
<path d="M803.7,1050.2 L834,1050.2 C850,1051 858,1059.3 872.7,1059.3 C887,1059.3 895,1050.5 909,1050.2 L1070,1050.2 L1070,1214.7 L909,1214.7 C895,1214.5 887,1205.6 872.7,1205.6 C858,1205.6 850,1214 834,1214.7 L803.7,1214.7 Z" fill="#1e1e1e"/>
<g clip-path="url(#bodyF)">
<g filter="url(#pblur)"><path d="M790,1063.5 L832,1063.5 Q842,1063.5 842,1073.5 L842,1111 Q842,1121 832,1121 L790,1121 L790,1063.5 Z" fill="url(#gPillowF)"/><path d="M790,1136 L832,1136 Q842,1136 842,1146 L842,1192.5 Q842,1202.5 832,1202.5 L790,1202.5 L790,1136 Z" fill="url(#gPillowF)"/><path d="M857,1071 L891,1071 Q903,1071 903,1083 L903,1110 Q903,1122 891,1122 L857,1122 Q845,1122 845,1110 L845,1083 Q845,1071 857,1071 Z" fill="url(#gPillowF)"/><path d="M857,1141 L891,1141 Q903,1141 903,1153 L903,1185 Q903,1197 891,1197 L857,1197 Q845,1197 845,1185 L845,1153 Q845,1141 857,1141 Z" fill="url(#gPillowF)"/><path d="M918,1063.5 L1085,1063.5 L1085,1121 L918,1121 Q908,1121 908,1111 L908,1073.5 Q908,1063.5 918,1063.5 Z" fill="url(#gPillowF)"/><path d="M918,1136 L1085,1136 L1085,1202.5 L918,1202.5 Q908,1202.5 908,1192.5 L908,1146 Q908,1136 918,1136 Z" fill="url(#gPillowF)"/></g>
<path d="M803,1057 L834,1057 C850,1057.5 858,1065.5 872.7,1065.5 C887,1065.5 895,1057.3 909,1057 L1070,1057" stroke="#5a5a5a" stroke-width="1.8" fill="none"/>
<path d="M803,1209 L834,1209 C850,1208.5 858,1199.5 872.7,1199.5 C887,1199.5 895,1208.7 909,1209 L1070,1209" stroke="#5a5a5a" stroke-width="1.8" fill="none"/>
</g>
<line x1="1069.5" y1="1051" x2="1069.5" y2="1214" stroke="#6a6a6a" stroke-width="1.2"/>
<g transform="translate(989,1133) scale(1.1) translate(-1021.5,-704.5)" fill="#eeeeee"><path fill-rule="evenodd" d="M1012.2,650 Q1012.2,646 1016,646.3 L1031,651.8 Q1034.5,653.3 1034.5,657 L1034.5,684.2 L1012.2,675 Z M1014.4,653.2 L1032.2,658.8 L1032.2,674.6 L1014.4,668.6 Z"/><path d="M1017.2,687.5 L1019.5,687.5 L1019.5,707 L1017.2,707 Z"/><path d="M1019.5,701 L1032,693 L1033.5,697.5 L1021,706 Z" fill="#c4c4c4"/><path d="M1023,688.5 Q1030,688 1034,691.5 L1034,695 L1030.5,695.5 Q1028,691.5 1023,691.8 Z"/><path d="M1025,706.5 L1034,704 L1034.5,714.5 L1031,714.5 L1031,709 L1025.5,710 Z" fill="#e0e0e0"/><path d="M1012,712.6 L1031,721 Q1034.7,722.5 1034.7,727 L1034.7,749.3 L1032.3,749.3 L1032.3,728.3 L1012,720.2 Z"/><path d="M1008.1,744.7 L1018.4,750 L1019.4,744 L1035,763.5 L1024.2,758 L1022.8,764.5 Z"/></g>
</svg>
</body></html>
